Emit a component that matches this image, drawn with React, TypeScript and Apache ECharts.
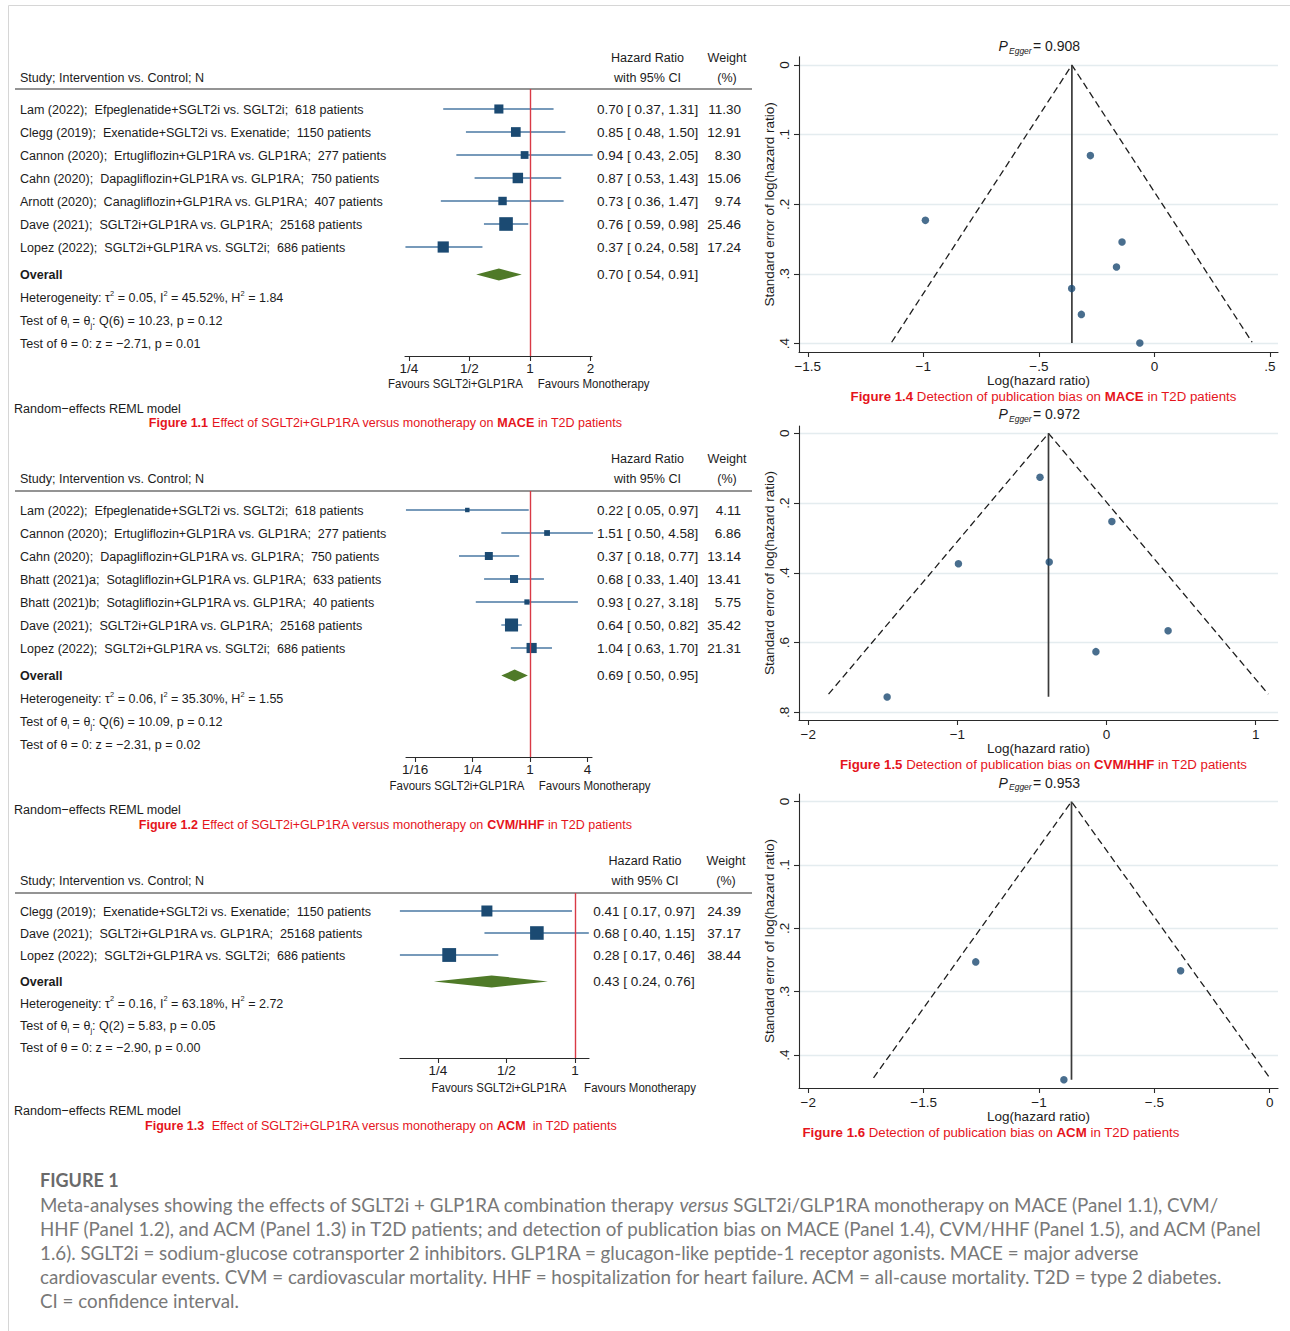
import React, { useEffect, useRef } from 'react';
import * as echarts from 'echarts';

const FONT = '"Liberation Sans", Arial, Helvetica, sans-serif';
const CAPTION_FONT = 'Lato, "Open Sans", sans-serif';
const TEXT = '#1c1c1c';
const AXIS = '#2a2a2a';
const RED = '#e5141c';
const NAVY = '#1b4a72';
const CI = '#4a78a3';
const GREEN = '#4f7a28';
const REF = '#d93a45';
const GRIDLINE = '#e4ecef';

// ---------- Panel 1.1 : MACE ----------
const maceStudies = [
  'Lam (2022);  Efpeglenatide+SGLT2i vs. SGLT2i;  618 patients',
  'Clegg (2019);  Exenatide+SGLT2i vs. Exenatide;  1150 patients',
  'Cannon (2020);  Ertugliflozin+GLP1RA vs. GLP1RA;  277 patients',
  'Cahn (2020);  Dapagliflozin+GLP1RA vs. GLP1RA;  750 patients',
  'Arnott (2020);  Canagliflozin+GLP1RA vs. GLP1RA;  407 patients',
  'Dave (2021);  SGLT2i+GLP1RA vs. GLP1RA;  25168 patients',
  'Lopez (2022);  SGLT2i+GLP1RA vs. SGLT2i;  686 patients',
];
const maceHR = [0.70, 0.85, 0.94, 0.87, 0.73, 0.76, 0.37];
const maceLo = [0.37, 0.48, 0.43, 0.53, 0.36, 0.59, 0.24];
const maceHi = [1.31, 1.50, 2.05, 1.43, 1.47, 0.98, 0.58];
const maceWeight = [11.30, 12.91, 8.30, 15.06, 9.74, 25.46, 17.24];
const maceOverall = [0.70, 0.54, 0.91];
const maceHet = ['0.05', '45.52', '1.84', '6', '10.23', '0.12', '2.71', '0.01'];
const maceTicks = [0.25, 0.5, 1, 2];
const maceTickLabels = ['1/4', '1/2', '1', '2'];

// ---------- Panel 1.2 : CVM/HHF ----------
const cvmStudies = [
  'Lam (2022);  Efpeglenatide+SGLT2i vs. SGLT2i;  618 patients',
  'Cannon (2020);  Ertugliflozin+GLP1RA vs. GLP1RA;  277 patients',
  'Cahn (2020);  Dapagliflozin+GLP1RA vs. GLP1RA;  750 patients',
  'Bhatt (2021)a;  Sotagliflozin+GLP1RA vs. GLP1RA;  633 patients',
  'Bhatt (2021)b;  Sotagliflozin+GLP1RA vs. GLP1RA;  40 patients',
  'Dave (2021);  SGLT2i+GLP1RA vs. GLP1RA;  25168 patients',
  'Lopez (2022);  SGLT2i+GLP1RA vs. SGLT2i;  686 patients',
];
const cvmHR = [0.22, 1.51, 0.37, 0.68, 0.93, 0.64, 1.04];
const cvmLo = [0.05, 0.50, 0.18, 0.33, 0.27, 0.50, 0.63];
const cvmHi = [0.97, 4.58, 0.77, 1.40, 3.18, 0.82, 1.70];
const cvmWeight = [4.11, 6.86, 13.14, 13.41, 5.75, 35.42, 21.31];
const cvmOverall = [0.69, 0.50, 0.95];
const cvmHet = ['0.06', '35.30', '1.55', '6', '10.09', '0.12', '2.31', '0.02'];
const cvmTicks = [0.0625, 0.25, 1, 4];
const cvmTickLabels = ['1/16', '1/4', '1', '4'];

// ---------- Panel 1.3 : ACM ----------
const acmStudies = [
  'Clegg (2019);  Exenatide+SGLT2i vs. Exenatide;  1150 patients',
  'Dave (2021);  SGLT2i+GLP1RA vs. GLP1RA;  25168 patients',
  'Lopez (2022);  SGLT2i+GLP1RA vs. SGLT2i;  686 patients',
];
const acmHR = [0.41, 0.68, 0.28];
const acmLo = [0.17, 0.40, 0.17];
const acmHi = [0.97, 1.15, 0.46];
const acmWeight = [24.39, 37.17, 38.44];
const acmOverall = [0.43, 0.24, 0.76];
const acmHet = ['0.16', '63.18', '2.72', '2', '5.83', '0.05', '2.90', '0.00'];
const acmTicks = [0.25, 0.5, 1];
const acmTickLabels = ['1/4', '1/2', '1'];

// ---------- Funnel 1.4 : MACE ----------
const funMaceLogHR = [-0.358, -0.164, -0.063, -0.140, -0.316, -0.277, -0.991];
const funMaceSE = [0.321, 0.290, 0.399, 0.254, 0.358, 0.130, 0.223];
const funMaceCenter = -0.357;
const funMaceLimits = [-1.137, 0.423, 0.398];
const funMaceLineEnd = 0.399;
const funMaceP = '0.908';
const funMaceXTicks = [-1.5, -1, -0.5, 0, 0.5];
const funMaceYTicks = [0, 0.1, 0.2, 0.3, 0.4];

// ---------- Funnel 1.5 : CVM/HHF ----------
const funCvmLogHR = [-1.471, 0.413, -0.993, -0.384, -0.071, -0.446, 0.036];
const funCvmSE = [0.756, 0.566, 0.374, 0.369, 0.626, 0.126, 0.253];
const funCvmCenter = -0.389;
const funCvmLimits = [-1.864, 1.085, 0.748];
const funCvmLineEnd = 0.755;
const funCvmP = '0.972';
const funCvmXTicks = [-2, -1, 0, 1];
const funCvmYTicks = [0, 0.2, 0.4, 0.6, 0.8];

// ---------- Funnel 1.6 : ACM ----------
const funAcmLogHR = [-0.892, -0.386, -1.274];
const funAcmSE = [0.439, 0.267, 0.253];
const funAcmCenter = -0.859;
const funAcmLimits = [-1.717, 0.0, 0.436];
const funAcmLineEnd = 0.439;
const funAcmP = '0.953';
const funAcmXTicks = [-2, -1.5, -1, -0.5, 0];
const funAcmYTicks = [0, 0.1, 0.2, 0.3, 0.4];

// ---------- captions ----------
const forestCaptions = [
  ['Figure 1.1', ' Effect of SGLT2i+GLP1RA versus monotherapy on ', 'MACE', ' in T2D patients'],
  ['Figure 1.2', ' Effect of SGLT2i+GLP1RA versus monotherapy on ', 'CVM/HHF', ' in T2D patients'],
  ['Figure 1.3', '  Effect of SGLT2i+GLP1RA versus monotherapy on ', 'ACM', '  in T2D patients'],
];
const funnelCaptions = [
  ['Figure 1.4', ' Detection of publication bias on ', 'MACE', ' in T2D patients'],
  ['Figure 1.5', ' Detection of publication bias on ', 'CVM/HHF', ' in T2D patients'],
  ['Figure 1.6', ' Detection of publication bias on ', 'ACM', ' in T2D patients'],
];
const figureLines = [
  'Meta-analyses showing the effects of SGLT2i + GLP1RA combination therapy {i|versus} SGLT2i/GLP1RA monotherapy on MACE (Panel 1.1), CVM/',
  'HHF (Panel 1.2), and ACM (Panel 1.3) in T2D patients; and detection of publication bias on MACE (Panel 1.4), CVM/HHF (Panel 1.5), and ACM (Panel',
  '1.6). SGLT2i = sodium-glucose cotransporter 2 inhibitors. GLP1RA = glucagon-like peptide-1 receptor agonists. MACE = major adverse',
  'cardiovascular events. CVM = cardiovascular mortality. HHF = hospitalization for heart failure. ACM = all-cause mortality. T2D = type 2 diabetes.',
  'CI = confidence interval.',
];

// ---------- layout ----------
const forestPanels = [
  { studies: maceStudies, hr: maceHR, lo: maceLo, hi: maceHi, wt: maceWeight, overall: maceOverall, het: maceHet, ticks: maceTicks, tickLabels: maceTickLabels },
  { studies: cvmStudies, hr: cvmHR, lo: cvmLo, hi: cvmHi, wt: cvmWeight, overall: cvmOverall, het: cvmHet, ticks: cvmTicks, tickLabels: cvmTickLabels },
  { studies: acmStudies, hr: acmHR, lo: acmLo, hi: acmHi, wt: acmWeight, overall: acmOverall, het: acmHet, ticks: acmTicks, tickLabels: acmTickLabels },
];
const forestLayouts = [
  { top: 89, axisY: 356, left: 405, right: 592, refX: 530, ppd: 60.5, row0: 109, step: 23, numX: 597, hrHdrX: 647.5, wtHdrX: 727, wtX: 741, hdrY1: 57, hdrY2: 77, favL: 455.5, favR: 593.7, favY: 384, randY: 408, capX: 385.5, capY: 422, boxK: 2.7 },
  { top: 491, axisY: 757, left: 406, right: 592, refX: 530, ppd: 28.7, row0: 510, step: 23, numX: 597, hrHdrX: 647.5, wtHdrX: 727, wtX: 741, hdrY1: 458, hdrY2: 478, favL: 457, favR: 594.7, favY: 786, randY: 809, capX: 385.5, capY: 824, boxK: 2.2 },
  { top: 893, axisY: 1058, left: 400, right: 589, refX: 575, ppd: 68.5, row0: 911, step: 22, numX: 593.3, hrHdrX: 645, wtHdrX: 726, wtX: 741, hdrY1: 860, hdrY2: 880, favL: 499, favR: 640, favY: 1088, randY: 1110, capX: 381, capY: 1125, boxK: 2.23 },
];

const funnelPanels = [
  { x: funMaceLogHR, se: funMaceSE, center: funMaceCenter, limits: funMaceLimits, lineEnd: funMaceLineEnd, p: funMaceP, xTicks: funMaceXTicks, yTicks: funMaceYTicks },
  { x: funCvmLogHR, se: funCvmSE, center: funCvmCenter, limits: funCvmLimits, lineEnd: funCvmLineEnd, p: funCvmP, xTicks: funCvmXTicks, yTicks: funCvmYTicks },
  { x: funAcmLogHR, se: funAcmSE, center: funAcmCenter, limits: funAcmLimits, lineEnd: funAcmLineEnd, p: funAcmP, xTicks: funAcmXTicks, yTicks: funAcmYTicks },
];
const funnelLayouts = [
  { left: 799, right: 1278, top: 56.7, bottom: 352, xMin: -1.538, xMax: 0.535, yMin: -0.012, yMax: 0.412, titleY: 46, capX: 1043.5, capY: 396 },
  { left: 799, right: 1278, top: 426, bottom: 720, xMin: -2.062, xMax: 1.15, yMin: -0.021, yMax: 0.822, titleY: 414, capX: 1043.5, capY: 764 },
  { left: 799, right: 1278, top: 794, bottom: 1088, xMin: -2.04, xMax: 0.036, yMin: -0.012, yMax: 0.452, titleY: 782.5, capX: 991, capY: 1132 },
];

const SQ = 0.93; // horizontal condensation of Stata text
const FS = 13.5;

function f2(v: number) { return v.toFixed(2); }
function hrString(h: number, l: number, u: number) { return `${f2(h)} [ ${f2(l)}, ${f2(u)}]`; }
function stataNum(v: number) {
  const r = Math.round(v * 1000) / 1000;
  if (Math.abs(r) < 1e-9) return '0';
  let s = String(Math.abs(r));
  if (s.startsWith('0.')) s = s.slice(1);
  return (r < 0 ? '\u2212' : '') + s;
}

const baseText = (extra: any) => ({ fontSize: FS, fontFamily: FONT, fill: TEXT, ...extra });
const richSS = {
  sup: { fontSize: 8, fontFamily: FONT, fill: TEXT, lineHeight: 9, verticalAlign: 'top' },
  sub: { fontSize: 8, fontFamily: FONT, fill: TEXT, lineHeight: 9, verticalAlign: 'bottom' },
};

function buildOption() {
  const grids: any[] = [];
  const xAxes: any[] = [];
  const yAxes: any[] = [];
  const series: any[] = [];
  const graphics: any[] = [];

  // frame
  graphics.push({ type: 'rect', shape: { x: 8.5, y: 5.5, width: 1300, height: 1340 }, style: { fill: 'none', stroke: '#d6d6d6', lineWidth: 1 }, silent: true });

  forestPanels.forEach((P, p) => {
    const L = forestLayouts[p];
    grids.push({ left: L.left, top: L.top, width: L.right - L.left, height: L.axisY - L.top, containLabel: false, outerBoundsMode: 'none' });
    const tickLog = P.ticks.map((t) => Math.log2(t));
    xAxes.push({
      gridIndex: p, type: 'value', position: 'bottom',
      min: (L.left - L.refX) / L.ppd, max: (L.right - L.refX) / L.ppd,
      axisLine: { show: true, onZero: false, lineStyle: { color: AXIS, width: 1.1 } },
      axisTick: { show: true, length: 5, customValues: tickLog, lineStyle: { color: AXIS, width: 1.1 } },
      axisLabel: {
        show: true, customValues: tickLog, margin: 5, fontSize: FS, fontFamily: FONT, color: TEXT,
        formatter: (v: number) => {
          const i = tickLog.findIndex((t) => Math.abs(t - v) < 1e-6);
          return i >= 0 ? P.tickLabels[i] : '';
        },
      },
      splitLine: { show: false },
    });
    const yMin = -(L.row0 - L.top) / L.step;
    yAxes.push({ gridIndex: p, type: 'value', inverse: true, min: yMin, max: yMin + (L.axisY - L.top) / L.step, show: false });

    const n = P.studies.length;
    series.push({
      type: 'custom', xAxisIndex: p, yAxisIndex: p, clip: false, silent: true,
      data: P.studies.map((_, i) => [i, Math.log2(P.hr[i]), Math.log2(P.lo[i]), Math.log2(P.hi[i]), P.wt[i]]),
      encode: { x: [1, 2, 3], y: 0 },
      renderItem: (params: any, api: any) => {
        const i = params.dataIndex;
        const row = api.value(0);
        const c = api.coord([api.value(1), row]);
        const a = api.coord([api.value(2), row]);
        const b = api.coord([api.value(3), row]);
        const s = L.boxK * Math.sqrt(api.value(4));
        return {
          type: 'group',
          children: [
            { type: 'line', shape: { x1: a[0], y1: a[1], x2: b[0], y2: b[1] }, style: { stroke: CI, lineWidth: 1.3 } },
            { type: 'rect', shape: { x: c[0] - s / 2, y: c[1] - s / 2, width: s, height: s }, style: { fill: NAVY } },
            { type: 'text', x: 20, y: c[1], scaleX: SQ, style: baseText({ text: P.studies[i], textAlign: 'left', textVerticalAlign: 'middle' }) },
            { type: 'text', x: L.numX, y: c[1], style: baseText({ text: hrString(P.hr[i], P.lo[i], P.hi[i]), textAlign: 'left', textVerticalAlign: 'middle' }) },
            { type: 'text', x: L.wtX, y: c[1], style: baseText({ text: f2(P.wt[i]), textAlign: 'right', textVerticalAlign: 'middle' }) },
          ],
        };
      },
      markLine: {
        silent: true, symbol: 'none', label: { show: false },
        lineStyle: { color: REF, width: 1.4, type: 'solid' },
        data: [{ xAxis: 0 }],
      },
      z: 3,
    });

    const H = P.het;
    series.push({
      type: 'custom', xAxisIndex: p, yAxisIndex: p, clip: false, silent: true,
      data: [[n + 0.2, Math.log2(P.overall[0]), Math.log2(P.overall[1]), Math.log2(P.overall[2])]],
      encode: { x: [1, 2, 3], y: 0 },
      renderItem: (params: any, api: any) => {
        const row = api.value(0);
        const c = api.coord([api.value(1), row]);
        const a = api.coord([api.value(2), row]);
        const b = api.coord([api.value(3), row]);
        const h = 6;
        const statY = (k: number) => api.coord([0, row + 1 + k])[1];
        return {
          type: 'group',
          children: [
            { type: 'polygon', shape: { points: [[a[0], a[1]], [c[0], c[1] - h], [b[0], b[1]], [c[0], c[1] + h]] }, style: { fill: GREEN } },
            { type: 'text', x: 20, y: c[1], scaleX: SQ, style: baseText({ text: 'Overall', fontWeight: 'bold', textAlign: 'left', textVerticalAlign: 'middle' }) },
            { type: 'text', x: L.numX, y: c[1], style: baseText({ text: hrString(P.overall[0], P.overall[1], P.overall[2]), textAlign: 'left', textVerticalAlign: 'middle' }) },
            { type: 'text', x: 20, y: statY(0), scaleX: SQ, style: baseText({ text: `Heterogeneity: \u03c4{sup|2} = ${H[0]}, I{sup|2} = ${H[1]}%, H{sup|2} = ${H[2]}`, rich: richSS, lineHeight: 17, textAlign: 'left', textVerticalAlign: 'middle' }) },
            { type: 'text', x: 20, y: statY(1), scaleX: SQ, style: baseText({ text: `Test of \u03b8{sub|i} = \u03b8{sub|j}: Q(${H[3]}) = ${H[4]}, p = ${H[5]}`, rich: richSS, lineHeight: 17, textAlign: 'left', textVerticalAlign: 'middle' }) },
            { type: 'text', x: 20, y: statY(2), scaleX: SQ, style: baseText({ text: `Test of \u03b8 = 0: z = \u2212${H[6]}, p = ${H[7]}`, textAlign: 'left', textVerticalAlign: 'middle' }) },
          ],
        };
      },
      z: 3,
    });

    // headers and labels
    graphics.push(
      { type: 'text', x: 20, y: L.hdrY2, scaleX: SQ, style: baseText({ text: 'Study; Intervention vs. Control; N', textAlign: 'left', textVerticalAlign: 'middle' }), silent: true },
      { type: 'text', x: L.hrHdrX, y: L.hdrY1, scaleX: SQ, style: baseText({ text: 'Hazard Ratio', textAlign: 'center', textVerticalAlign: 'middle' }), silent: true },
      { type: 'text', x: L.hrHdrX, y: L.hdrY2, scaleX: SQ, style: baseText({ text: 'with 95% CI', textAlign: 'center', textVerticalAlign: 'middle' }), silent: true },
      { type: 'text', x: L.wtHdrX, y: L.hdrY1, scaleX: SQ, style: baseText({ text: 'Weight', textAlign: 'center', textVerticalAlign: 'middle' }), silent: true },
      { type: 'text', x: L.wtHdrX, y: L.hdrY2, scaleX: SQ, style: baseText({ text: '(%)', textAlign: 'center', textVerticalAlign: 'middle' }), silent: true },
      { type: 'line', shape: { x1: 15, y1: L.top, x2: 752, y2: L.top }, style: { stroke: AXIS, lineWidth: 1.2 }, silent: true },
      { type: 'text', x: L.favL, y: L.favY, scaleX: 0.92, style: baseText({ text: 'Favours SGLT2i+GLP1RA', fontSize: 12.5, textAlign: 'center', textVerticalAlign: 'middle' }), silent: true },
      { type: 'text', x: L.favR, y: L.favY, scaleX: 0.92, style: baseText({ text: 'Favours Monotherapy', fontSize: 12.5, textAlign: 'center', textVerticalAlign: 'middle' }), silent: true },
      { type: 'text', x: 14, y: L.randY, scaleX: SQ, style: baseText({ text: 'Random\u2212effects REML model', textAlign: 'left', textVerticalAlign: 'middle' }), silent: true },
    );
    const C = forestCaptions[p];
    graphics.push({
      type: 'text', x: L.capX, y: L.capY, scaleX: 0.965, silent: true,
      style: {
        text: `{b|${C[0]}}${C[1]}{b|${C[2]}}${C[3]}`,
        fontSize: 13, fontFamily: FONT, fill: RED, textAlign: 'center', textVerticalAlign: 'middle',
        rich: { b: { fontSize: 13, fontFamily: FONT, fill: RED, fontWeight: 'bold' } },
      },
    });
  });

  funnelPanels.forEach((F, k) => {
    const L = funnelLayouts[k];
    const g = 3 + k;
    grids.push({ left: L.left, top: L.top, width: L.right - L.left, height: L.bottom - L.top, containLabel: false, outerBoundsMode: 'none' });
    xAxes.push({
      gridIndex: g, type: 'value', position: 'bottom', min: L.xMin, max: L.xMax,
      axisLine: { show: true, onZero: false, lineStyle: { color: AXIS, width: 1.1 } },
      axisTick: { show: true, length: 5, customValues: F.xTicks, lineStyle: { color: AXIS, width: 1.1 } },
      axisLabel: { customValues: F.xTicks, margin: 7, fontSize: FS, fontFamily: FONT, color: TEXT, formatter: (v: number) => stataNum(v) },
      splitLine: { show: false },
      name: 'Log(hazard ratio)', nameLocation: 'middle', nameGap: 18,
      nameTextStyle: { fontSize: FS, fontFamily: FONT, color: TEXT },
    });
    yAxes.push({
      gridIndex: g, type: 'value', position: 'left', inverse: true, min: L.yMin, max: L.yMax,
      axisLine: { show: true, onZero: false, lineStyle: { color: AXIS, width: 1.1 } },
      axisTick: { show: true, length: 5, customValues: F.yTicks, lineStyle: { color: AXIS, width: 1.1 } },
      axisLabel: { customValues: F.yTicks, rotate: 90, margin: 8, fontSize: FS, fontFamily: FONT, color: TEXT, formatter: (v: number) => stataNum(v) },
      splitLine: { show: false },
      name: 'Standard error of log(hazard ratio)', nameLocation: 'middle', nameGap: 23,
      nameTextStyle: { fontSize: FS, fontFamily: FONT, color: TEXT },
    });
    series.push({
      type: 'line', xAxisIndex: g, yAxisIndex: g, silent: true, z: 1,
      data: [[F.limits[0], F.limits[2]], [F.center, 0], [F.limits[1], F.limits[2]]],
      symbol: 'none', lineStyle: { color: '#1e1e1e', width: 1.3, type: [7, 4] },
      markLine: {
        silent: true, symbol: 'none', label: { show: false }, z: 0,
        lineStyle: { color: GRIDLINE, width: 1.4, type: 'solid' },
        data: F.yTicks.map((t) => ({ yAxis: t })),
      },
    });
    series.push({
      type: 'line', xAxisIndex: g, yAxisIndex: g, silent: true, z: 2,
      data: [[F.center, 0], [F.center, F.lineEnd]],
      symbol: 'none', lineStyle: { color: '#3a3a3a', width: 1.7, type: 'solid' },
    });
    series.push({
      type: 'scatter', xAxisIndex: g, yAxisIndex: g, silent: true, z: 3,
      data: F.x.map((v, i) => [v, F.se[i]]),
      symbol: 'circle', symbolSize: 7.5, itemStyle: { color: NAVY },
    });
    // P_Egger title
    graphics.push(
      { type: 'text', x: 998.5, y: L.titleY, silent: true, style: baseText({ text: 'P', fontStyle: 'italic', fontSize: 14, textAlign: 'left', textVerticalAlign: 'middle' }) },
      { type: 'text', x: 1009, y: L.titleY + 4.5, silent: true, style: baseText({ text: 'Egger', fontStyle: 'italic', fontSize: 8.5, textAlign: 'left', textVerticalAlign: 'middle' }) },
      { type: 'text', x: 1033, y: L.titleY, silent: true, style: baseText({ text: `= ${F.p}`, fontSize: 14, textAlign: 'left', textVerticalAlign: 'middle' }) },
    );
    const C = funnelCaptions[k];
    graphics.push({
      type: 'text', x: L.capX, y: L.capY, silent: true,
      style: {
        text: `{b|${C[0]}}${C[1]}{b|${C[2]}}${C[3]}`,
        fontSize: 13.25, fontFamily: FONT, fill: RED, textAlign: 'center', textVerticalAlign: 'middle',
        rich: { b: { fontSize: 13.25, fontFamily: FONT, fill: RED, fontWeight: 'bold' } },
      },
    });
  });

  // Figure caption
  graphics.push({
    type: 'text', x: 40, y: 1180, silent: true,
    style: { text: 'FIGURE 1', fontSize: 18, fontWeight: 'bold', fontFamily: CAPTION_FONT, fill: '#6a6a6a', textAlign: 'left', textVerticalAlign: 'middle' },
  });
  figureLines.forEach((line, i) => {
    graphics.push({
      type: 'text', x: 40, y: 1204 + 24 * i, silent: true,
      style: {
        text: line, fontSize: 18.75, fontFamily: CAPTION_FONT, fill: '#787878', textAlign: 'left', textVerticalAlign: 'middle',
        rich: { i: { fontSize: 18.75, fontFamily: CAPTION_FONT, fill: '#787878', fontStyle: 'italic' } },
      },
    });
  });

  return {
    animation: false,
    backgroundColor: '#ffffff',
    grid: grids,
    xAxis: xAxes,
    yAxis: yAxes,
    series,
    graphic: graphics,
  };
}

export default function App() {
  const ref = useRef<HTMLDivElement>(null);
  useEffect(() => {
    const chart = echarts.init(ref.current as HTMLDivElement, null, { renderer: 'svg' });
    chart.setOption(buildOption() as any);
    return () => chart.dispose();
  }, []);
  return (
    <div
      ref={ref}
      style={{ position: 'absolute', left: 0, top: 0, width: 1290, height: 1331, background: '#ffffff' }}
    />
  );
}
